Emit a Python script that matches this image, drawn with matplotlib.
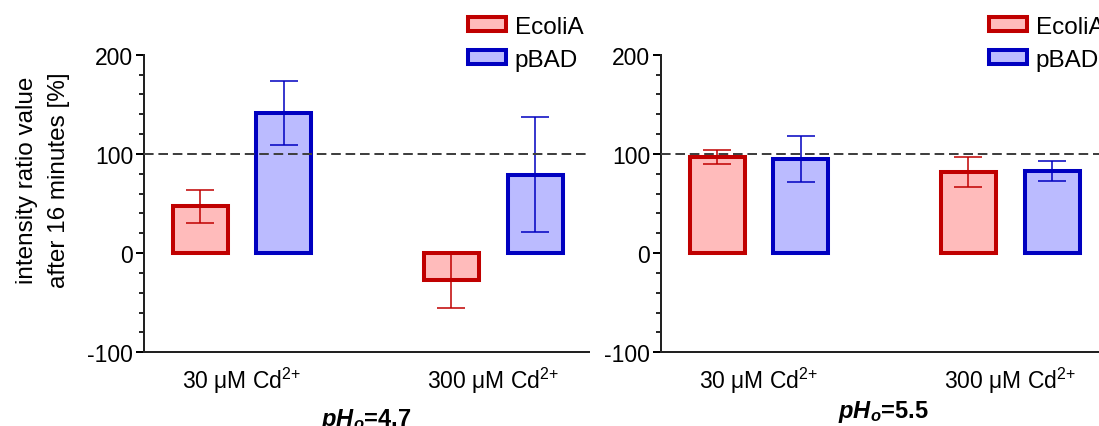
import numpy as np
import matplotlib
matplotlib.use("Agg")
import matplotlib.pyplot as plt
from matplotlib.patches import Patch

plt.rcParams['font.family'] = ['Liberation Sans', 'DejaVu Sans']
plt.rcParams['mathtext.fontset'] = 'custom'
plt.rcParams['mathtext.rm'] = 'Liberation Sans'
plt.rcParams['mathtext.it'] = 'Liberation Sans:italic:bold'
plt.rcParams['mathtext.bf'] = 'Liberation Sans:bold'
plt.rcParams['axes.unicode_minus'] = False

# values (mean +/- SD, in %)
groups = ["30 \u03bcM Cd$^{2{+}}$", "300 \u03bcM Cd$^{2{+}}$"]
ph_values = ["4.7", "5.5"]
series_names = ["EcoliA", "pBAD"]

ecoli_mean_47 = [47, -27]
ecoli_sd_47 = [17, 28]
pbad_mean_47 = [141, 79]
pbad_sd_47 = [32, 58]

ecoli_mean_55 = [97, 82]
ecoli_sd_55 = [7, 15]
pbad_mean_55 = [95, 83]
pbad_sd_55 = [23, 10]

edge_colors = ["#C00000", "#0000C0"]
fill_colors = ["#FFBBBB", "#BBBBFF"]

panels = [
    (ecoli_mean_47, ecoli_sd_47, pbad_mean_47, pbad_sd_47),
    (ecoli_mean_55, ecoli_sd_55, pbad_mean_55, pbad_sd_55),
]

W, H = 1099, 427
fig = plt.figure(figsize=(W / 100, H / 100), dpi=100)

# axes boxes in pixels: left, top, right, bottom
boxes = [(144, 55.7, 589, 353.3), (661, 55.7, 1106, 353.3)]
legend_x = [0.727, 0.736]
xlabel_pad = [8, 2]

fs = 16.5
x = np.arange(len(groups))
offset = 0.167
width = 0.219

for i, (box, data) in enumerate(zip(boxes, panels)):
    l, t, r, b = box
    ax = fig.add_axes([l / W, 1 - b / H, (r - l) / W, (b - t) / H])
    means = [data[0], data[2]]
    sds = [data[1], data[3]]
    for k in range(2):
        xpos = x + (offset if k else -offset)
        ax.bar(xpos, means[k], width=width, color=fill_colors[k],
               edgecolor=edge_colors[k], linewidth=2.9, zorder=2)
        ax.errorbar(xpos, means[k], yerr=sds[k], fmt='none',
                    ecolor=edge_colors[k], elinewidth=1.1, capsize=10.4,
                    capthick=1.1, zorder=3)
    ax.axhline(100, color="#404040", linewidth=1.44,
               linestyle=(0, (4.8, 2.4)), zorder=4)

    ax.set_xlim(-0.39, 1.382)
    ax.set_ylim(-100, 200)
    ax.set_yticks([-100, 0, 100, 200])
    ax.set_yticks(np.arange(-100, 201, 20), minor=True)
    ax.set_xticks(x)
    ax.set_xticklabels(groups, fontsize=fs)
    ax.tick_params(axis='x', length=0, pad=9)
    ax.tick_params(axis='y', which='major', length=5.8, width=1.44,
                   labelsize=fs, pad=2)
    ax.tick_params(axis='y', which='minor', length=3.6, width=1.2)

    for side in ['top', 'right']:
        ax.spines[side].set_visible(False)
    for side in ['left', 'bottom']:
        ax.spines[side].set_linewidth(1.44)
        ax.spines[side].set_color("#222222")

    ax.set_xlabel(r"$pH_o$=" + ph_values[i], fontsize=17,
                  fontweight='bold', labelpad=xlabel_pad[i])

    handles = [Patch(facecolor=fill_colors[k], edgecolor=edge_colors[k],
                     linewidth=2.9) for k in range(2)]
    ax.legend(handles, series_names, loc='upper left',
              bbox_to_anchor=(legend_x[i], 1.13), frameon=False,
              fontsize=17.5, borderpad=0, borderaxespad=0,
              handlelength=1.6, handleheight=0.5, handletextpad=0.35,
              labelspacing=0.45)

    if i == 0:
        ax.set_ylabel("intensity ratio value\nafter 16 minutes [%]",
                      fontsize=17.5, linespacing=1.62)
        ax.yaxis.set_label_coords(-0.166, 0.582)

fig.savefig("out.png", dpi=100)
